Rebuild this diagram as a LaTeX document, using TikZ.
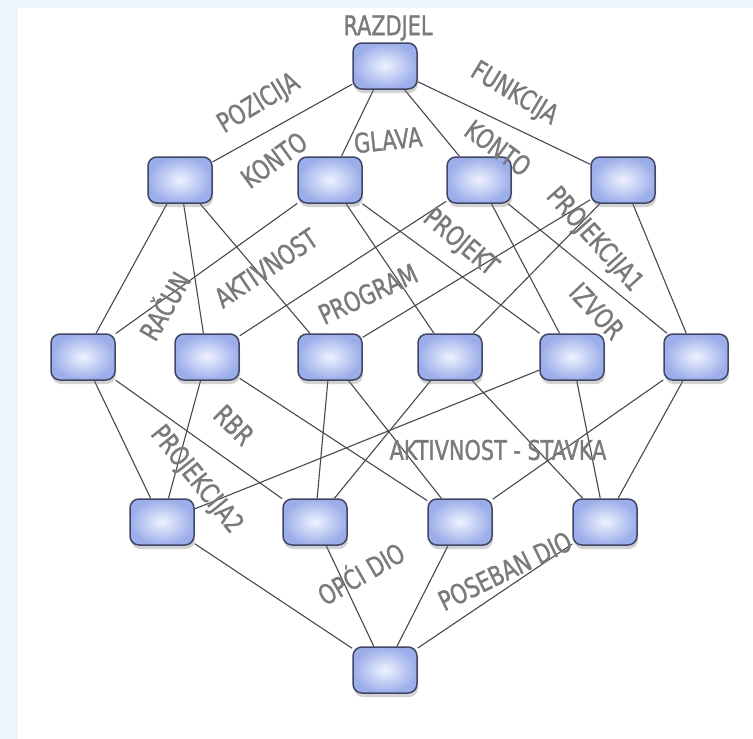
\documentclass[tikz,border=0pt]{standalone}
\usepackage{fontspec}
\setmainfont[FakeStretch=0.77,FakeBold=1.2]{DejaVu Sans}
\usetikzlibrary{shadows,backgrounds}
\definecolor{bgblue}{RGB}{238,245,251}
\definecolor{edgecol}{RGB}{72,72,80}
\definecolor{labelgray}{RGB}{122,122,122}
\definecolor{boxedge}{RGB}{64,70,100}
\definecolor{boxin}{RGB}{238,242,255}
\definecolor{boxout}{RGB}{156,174,234}
\begin{document}
\begin{tikzpicture}[x=1pt,y=-1pt,
  box/.style={draw=boxedge, line width=1.5pt, rounded corners=9pt,
    minimum width=64pt, minimum height=46pt, inner sep=0pt,
    inner color=boxin, outer color=boxout,
    drop shadow={shadow xshift=1pt, shadow yshift=-4pt, opacity=0.35}},
  link/.style={draw=edgecol, line width=1.1pt},
  lbl/.style={text=labelgray, font=\fontsize{27}{27}\selectfont, inner sep=0pt}]
\useasboundingbox (0,0) rectangle (753,739);
% nodes
\node[box] (T)  at (385,66) {};
\node[box] (A1) at (180,180) {};
\node[box] (A2) at (330,180) {};
\node[box] (A3) at (479,180) {};
\node[box] (A4) at (623,180) {};
\node[box] (B1) at (83,357) {};
\node[box] (B2) at (207,357) {};
\node[box] (B3) at (330,357) {};
\node[box] (B4) at (450,357) {};
\node[box] (B5) at (572,357) {};
\node[box] (B6) at (696,357) {};
\node[box] (C1) at (162,522) {};
\node[box] (C2) at (315,522) {};
\node[box] (C3) at (460,522) {};
\node[box] (C4) at (605,522) {};
\node[box] (D)  at (385,670) {};
% connectors
\begin{pgfonlayer}{background}
\fill[bgblue] (0,0) rectangle (753,739);
\fill[white] (18,8) rectangle (753,739);
\foreach \a/\b in {T/A1,T/A2,T/A3,T/A4,
  A1/B1,A1/B2,A1/B3,A2/B1,A2/B4,A2/B5,A3/B2,A3/B5,A3/B6,A4/B3,A4/B4,A4/B6,
  B1/C1,B1/C2,B2/C1,B2/C3,B3/C2,B3/C3,B4/C2,B4/C4,B5/C1,B5/C4,B6/C3,B6/C4,
  C1/D,C2/D,C3/D,C4/D}
  \draw[link] (\a) -- (\b);
\end{pgfonlayer}
% labels
\node[lbl] (l1) at (388,28) {RAZDJEL};
\node[lbl,rotate=31] (l2) at (259,104) {POZICIJA};
\node[lbl,rotate=-31] (l3) at (514,94) {FUNKCIJA};
\node[lbl,rotate=36] (l4) at (274,160) {KONTO};
\node[lbl,rotate=6] (l5) at (388,140) {GLAVA};
\node[lbl,rotate=-36] (l6) at (498,148) {KONTO};
\node[lbl,rotate=-48] (l7) at (594,240) {PROJEKCIJA1};
\node[lbl,rotate=-40] (l8) at (460,243) {PROJEKT};
\node[lbl,rotate=-47] (l9) at (597,311) {IZVOR};
\node[lbl,rotate=60] (l10) at (163,305) {RAČUN};
\node[lbl,rotate=34] (l11) at (266,268) {AKTIVNOST};
\node[lbl,rotate=25] (l12) at (368,294) {PROGRAM};
\node[lbl,rotate=-45] (l13) at (234,425) {RBR};
\node[lbl,rotate=-51] (l14) at (196,480) {PROJEKCIJA2};
\node[lbl] (l15) at (498,450) {AKTIVNOST - STAVKA};
\node[lbl,rotate=30] (l16) at (360,572) {OPĆI DIO};
\node[lbl,rotate=26] (l17) at (505,571) {POSEBAN DIO};
\end{tikzpicture}
\end{document}
